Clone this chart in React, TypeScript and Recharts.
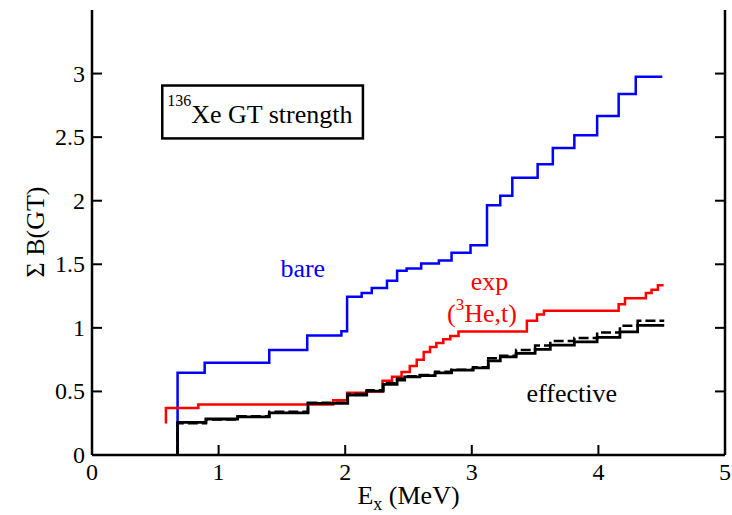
import React from "react";
import { LineChart, Line, XAxis, YAxis, ReferenceArea, ReferenceDot } from "recharts";

// cumulative B(GT) step points
const bareE = [0.676, 0.676, 0.89, 1.4, 1.7, 1.97, 2.015, 2.13, 2.21, 2.33, 2.41, 2.485, 2.6, 2.74, 2.84, 2.99, 3.12, 3.225, 3.32, 3.52, 3.64, 3.81, 3.99, 4.16, 4.295, 4.505];
const bareB = [0, 0.646, 0.725, 0.825, 0.94, 0.974, 1.244, 1.275, 1.314, 1.37, 1.45, 1.467, 1.506, 1.53, 1.59, 1.65, 1.964, 2.04, 2.18, 2.286, 2.414, 2.514, 2.666, 2.84, 2.975, 2.975];

const expE = [0.584, 0.584, 0.84, 1.905, 2.015, 2.17, 2.295, 2.37, 2.445, 2.51, 2.565, 2.62, 2.67, 2.72, 2.775, 2.83, 2.895, 3.435, 3.515, 3.57, 4.16, 4.21, 4.375, 4.42, 4.47, 4.515];
const expB = [0.248, 0.37, 0.398, 0.43, 0.49, 0.5, 0.584, 0.615, 0.652, 0.7, 0.75, 0.81, 0.85, 0.88, 0.91, 0.935, 0.972, 1.055, 1.105, 1.135, 1.185, 1.232, 1.275, 1.3, 1.335, 1.335];

const effE = [0.676, 0.676, 0.9, 1.15, 1.4, 1.706, 2.02, 2.17, 2.3, 2.41, 2.47, 2.59, 2.71, 2.84, 3.01, 3.13, 3.225, 3.35, 3.5, 3.62, 3.81, 3.99, 4.17, 4.31, 4.52];
const effB = [0, 0.257, 0.283, 0.3, 0.332, 0.406, 0.471, 0.503, 0.555, 0.589, 0.615, 0.625, 0.646, 0.667, 0.686, 0.74, 0.772, 0.8, 0.83, 0.864, 0.89, 0.925, 0.969, 1.02, 1.02];
const effDashB = [0, 0.25, 0.28, 0.305, 0.34, 0.41, 0.48, 0.51, 0.565, 0.6, 0.62, 0.63, 0.655, 0.67, 0.69, 0.76, 0.78, 0.825, 0.862, 0.896, 0.92, 0.964, 1.016, 1.055, 1.055];

const xTicks = [0, 1, 2, 3, 4, 5];
const yTicks = [0, 0.5, 1, 1.5, 2, 2.5, 3];

const bare = bareE.map((e, i) => ({ e, b: bareB[i] }));
const exp = expE.map((e, i) => ({ e, b: expB[i] }));
const eff = effE.map((e, i) => ({ e, b: effB[i] }));
const effDash = effE.map((e, i) => ({ e, b: effDashB[i] }));

const serif = { fontFamily: '"Liberation Serif", "DejaVu Serif", "Times New Roman", serif' };

const BottomTick = (props: any) => {
  const { x, y, payload } = props;
  const edge = payload.value === 0 || payload.value === 5;
  return (
    <g>
      {!edge && <line x1={x} y1={y} x2={x} y2={y - 10} stroke="#000" strokeWidth={2} />}
      <text x={x} y={y + 25} textAnchor="middle" style={serif} fontSize={24} fill="#000">
        {payload.value}
      </text>
    </g>
  );
};

const TopTick = (props: any) => {
  const { x, y, payload } = props;
  if (payload.value === 0 || payload.value === 5) return <g />;
  return <line x1={x} y1={y} x2={x} y2={y + 10} stroke="#000" strokeWidth={2} />;
};

const LeftTick = (props: any) => {
  const { x, y, payload } = props;
  return (
    <g>
      {payload.value !== 0 && <line x1={x} y1={y} x2={x + 10} y2={y} stroke="#000" strokeWidth={2} />}
      <text x={x - 7} y={y + 8} textAnchor="end" style={serif} fontSize={24} fill="#000">
        {payload.value}
      </text>
    </g>
  );
};

const RightTick = (props: any) => {
  const { x, y, payload } = props;
  if (payload.value === 0) return <g />;
  return <line x1={x} y1={y} x2={x - 10} y2={y} stroke="#000" strokeWidth={2} />;
};

const note = (content: React.ReactNode, color: string) => (p: any) => (
  <text x={p.cx} y={p.cy} textAnchor="middle" style={serif} fontSize={26} fill={color}>
    {content}
  </text>
);

const TitleBox = (p: any) => (
  <g>
    <rect x={p.x} y={p.y} width={p.width} height={p.height} fill="#fff" stroke="#000" strokeWidth={2.5} />
    <text x={p.x + 5} y={p.y + 37} style={serif} fill="#000">
      <tspan fontSize={16} dy={-17}>136</tspan>
      <tspan fontSize={26} dy={17}>Xe GT strength</tspan>
    </text>
  </g>
);

export default function App() {
  const axisLine = { stroke: "#000", strokeWidth: 2.5 };
  return (
    <div style={{ position: "absolute", left: 0, top: 0, background: "#fff" }}>
      <LineChart width={732} height={515} margin={{ top: 10, right: 0, bottom: 0, left: 0 }}>
        <XAxis
          type="number"
          dataKey="e"
          domain={[0, 5]}
          ticks={xTicks}
          interval={0}
          allowDataOverflow
          height={60}
          tickSize={0}
          tickMargin={0}
          tickLine={false}
          axisLine={axisLine}
          tick={<BottomTick />}
          label={{
            content: (lp: any) => {
              const vb = lp.viewBox;
              return (
                <text x={vb.x + vb.width / 2} y={vb.y + 49} textAnchor="middle" style={serif} fontSize={26} fill="#000">
                  E<tspan fontSize={18} dy={6}>x</tspan>
                  <tspan dy={-6}> (MeV)</tspan>
                </text>
              );
            },
          }}
        />
        <XAxis
          xAxisId="top"
          orientation="top"
          type="number"
          domain={[0, 5]}
          ticks={xTicks}
          interval={0}
          allowDataOverflow
          height={0}
          tickSize={0}
          tickMargin={0}
          tickLine={false}
          axisLine={axisLine}
          tick={<TopTick />}
        />
        <YAxis
          type="number"
          domain={[0, 3.5]}
          ticks={yTicks}
          interval={0}
          allowDataOverflow
          width={92}
          tickSize={0}
          tickMargin={0}
          tickLine={false}
          axisLine={axisLine}
          tick={<LeftTick />}
          label={{
            content: () => {
              const cx = 35;
              const cy = 232;
              return (
                <text x={cx} y={cy} transform={`rotate(-90, ${cx}, ${cy})`} textAnchor="middle" dominantBaseline="central" style={serif} fontSize={26} fill="#000">
                  Σ B(GT)
                </text>
              );
            },
          }}
        />
        <YAxis
          yAxisId="right"
          orientation="right"
          type="number"
          domain={[0, 3.5]}
          ticks={yTicks}
          interval={0}
          allowDataOverflow
          width={7}
          tickSize={0}
          tickMargin={0}
          tickLine={false}
          axisLine={axisLine}
          tick={<RightTick />}
        />

        <ReferenceArea x1={0.555} x2={2.14} y1={2.49} y2={2.906} shape={<TitleBox />} ifOverflow="visible" />

        <Line data={bare} dataKey="b" type="stepAfter" stroke="#0000ff" strokeWidth={2.5} dot={false} isAnimationActive={false} />
        <Line data={exp} dataKey="b" type="stepAfter" stroke="#ff0000" strokeWidth={2.5} dot={false} isAnimationActive={false} />
        <Line data={effDash} dataKey="b" type="stepAfter" stroke="#000" strokeWidth={2.5} strokeDasharray="10 4" dot={false} isAnimationActive={false} />
        <Line data={eff} dataKey="b" type="stepAfter" stroke="#000" strokeWidth={2.8} dot={false} isAnimationActive={false} />

        <ReferenceDot x={1.665} y={1.4} r={0} shape={note("bare", "#0000ff")} />
        <ReferenceDot x={3.14} y={1.3} r={0} shape={note("exp", "#ff0000")} />
        <ReferenceDot
          x={3.08}
          y={1.05}
          r={0}
          shape={note(
            <>
              (<tspan fontSize={17} dy={-12}>3</tspan>
              <tspan dy={12}>He,t)</tspan>
            </>,
            "#ff0000"
          )}
        />
        <ReferenceDot x={3.79} y={0.415} r={0} shape={note("effective", "#000")} />
      </LineChart>
    </div>
  );
}
